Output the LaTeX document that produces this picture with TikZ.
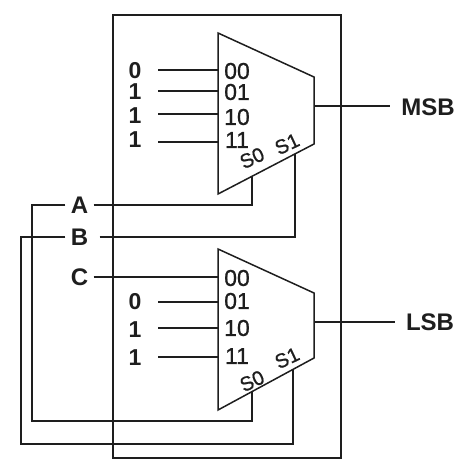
\documentclass[tikz,border=0pt]{standalone}
\usepackage{fontspec}
\setmainfont{Liberation Sans}
\newfontfamily\medfont[FakeBold=0.8]{Liberation Sans}
\usetikzlibrary{positioning}
\definecolor{ink}{HTML}{1E1E1E}

\begin{document}
\begin{tikzpicture}[
  x=1pt,y=1pt,
  wire/.style={draw=ink,line width=1.5pt},
  muxbody/.style={draw=ink,line width=1.5pt,line join=miter},
  bit/.style={font=\fontsize{23}{23}\selectfont\bfseries,text=ink,inner sep=0pt,minimum width=46pt},
  invar/.style={font=\fontsize{24}{24}\selectfont\bfseries,text=ink,inner sep=0pt,minimum width=28pt},
  outvar/.style={font=\fontsize{24}{24}\selectfont\bfseries,text=ink,inner sep=0pt},
  port/.style={font=\fontsize{23}{23}\medfont,text=ink,inner sep=0pt},
  sel/.style={font=\fontsize{20}{20}\medfont,text=ink,inner sep=0pt,rotate=25}
]
\useasboundingbox (0,0) rectangle (473,-472);
\node[draw=ink,line width=1.5pt,minimum width=228pt,minimum height=443pt] (chip) at (227,-236.5) {};

% upper mux
\coordinate (ua) at (218,-33);
\coordinate (ub) at (314,-77);
\coordinate (uc) at (314,-144);
\coordinate (ud) at (218,-194);
\draw[muxbody] (ua) -- (ub) -- (uc) -- (ud) -- cycle;
\node[port] (u00) at (237,-71)  {00};
\node[port] (u01) at (237,-92)  {01};
\node[port] (u10) at (237,-117) {10};
\node[port] (u11) at (237,-140) {11};
\node[sel]  (us0) at (252,-158) {S0};
\node[sel]  (us1) at (287,-144) {S1};
\coordinate (up00) at (218,-70);
\coordinate (up01) at (218,-91);
\coordinate (up10) at (218,-114);
\coordinate (up11) at (218,-142);
\coordinate (upout) at (314,-106);
\coordinate (ups0) at (252,-176);
\coordinate (ups1) at (295,-154);

% lower mux
\coordinate (la) at (218,-249);
\coordinate (lb) at (314,-293);
\coordinate (lc) at (314,-358);
\coordinate (ld) at (218,-410);
\draw[muxbody] (la) -- (lb) -- (lc) -- (ld) -- cycle;
\node[port] (l00) at (237,-278) {00};
\node[port] (l01) at (237,-301) {01};
\node[port] (l10) at (237,-328) {10};
\node[port] (l11) at (237,-356) {11};
\node[sel]  (ls0) at (252,-381) {S0};
\node[sel]  (ls1) at (287,-358) {S1};
\coordinate (lp00) at (218,-277);
\coordinate (lp01) at (218,-302);
\coordinate (lp10) at (218,-328);
\coordinate (lp11) at (218,-357);
\coordinate (lpout) at (314,-322);
\coordinate (lps0) at (252,-392);
\coordinate (lps1) at (293,-369);

% inputs
\node[bit] (d0) at (135,-71)  {0};
\node[bit] (d1) at (135,-92)  {1};
\node[bit] (d2) at (135,-116) {1};
\node[bit] (d3) at (135,-140) {1};
\node[bit] (d4) at (135,-302) {0};
\node[bit] (d5) at (135,-330) {1};
\node[bit] (d6) at (135,-358) {1};
\node[invar] (vara) at (79.5,-205) {A};
\node[invar] (varb) at (79.5,-237) {B};
\node[invar] (varc) at (79.5,-277) {C};
\node[outvar] (msb) at (428,-107) {MSB};
\node[outvar] (lsb) at (430,-322) {LSB};
\coordinate (msbin) at (390,-106);
\coordinate (lsbin) at (395,-322);

\draw[wire] (d0.east |- up00) -- (up00);
\draw[wire] (d1.east |- up01) -- (up01);
\draw[wire] (d2.east |- up10) -- (up10);
\draw[wire] (d3.east |- up11) -- (up11);
\draw[wire] (d4.east |- lp01) -- (lp01);
\draw[wire] (d5.east |- lp10) -- (lp10);
\draw[wire] (d6.east |- lp11) -- (lp11);
\draw[wire] (varc.east) -- (lp00);
\draw[wire] (upout) -- (msbin);
\draw[wire] (lpout) -- (lsbin);

% selects
\draw[wire] (vara.east) -- (ups0 |- vara.east) -- (ups0);
\draw[wire,shorten <=6pt] (varb.east) -- (ups1 |- varb.east) -- (ups1);
\draw[wire] (vara.west) -- (32,-205) -- (32,-421) -- (252,-421) -- (lps0);
\draw[wire] (varb.west) -- (21,-237) -- (21,-444) -- (293,-444) -- (lps1);
\end{tikzpicture}
\end{document}
